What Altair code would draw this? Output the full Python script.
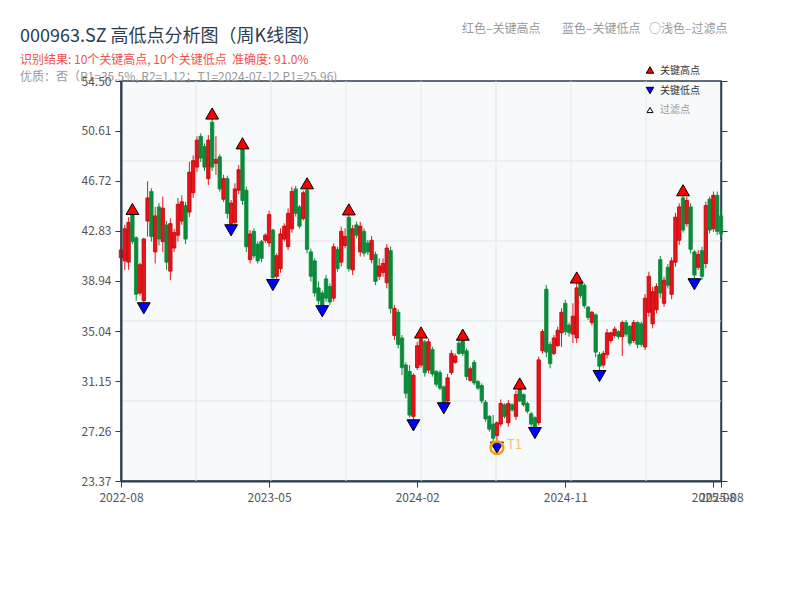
import altair as alt
import pandas as pd

# ---------------- text ----------------
TITLE = "000963.SZ 高低点分析图（周K线图）"
SUB1 = "识别结果: 10个关键高点, 10个关键低点\u00a0\u00a0准确度: 91.0%"
SUB2 = "优质：否（R1=35.5%, R2=1.12；T1=2024-07-12 P1=25.96)"
HEADER = ["红色–关键高点", "蓝色–关键低点", "○浅色–过滤点"]
LEGEND = ["关键高点", "关键低点", "过滤点"]

# ---------------- data ----------------
START = "2022-08-19"   # first weekly bar (Fridays)
OPEN = [40.75, 40.5, 40.4, 44.2, 42.3, 38.0, 37.4, 43.6, 45.9, 41.2,
        44.7, 42.0, 43.3, 39.7, 41.5, 42.5, 43.6, 44.8, 44.3, 45.8,
        47.8, 50.2, 49.4, 46.9, 51.3, 48.1, 48.6, 45.3, 46.9, 43.4,
        43.5, 46.0, 49.2, 46.0, 40.6, 42.8, 41.8, 42.0, 42.1, 41.9,
        42.9, 39.3, 39.9, 42.2, 41.6, 43.0, 46.1, 44.7, 43.8, 46.0,
        41.2, 40.5, 38.4, 38.0, 39.1, 38.5, 37.6, 41.4, 40.4, 41.7,
        43.9, 39.8, 43.3, 41.2, 42.8, 41.9, 40.6, 41.0, 39.3, 39.6,
        38.8, 41.3, 34.7, 36.5, 34.5, 32.4, 31.9, 28.4, 32.2, 32.4,
        34.2, 32.0, 33.6, 31.9, 31.8, 30.7, 29.6, 31.8, 32.6, 34.1,
        34.3, 33.5, 31.2, 32.6, 31.1, 30.8, 29.5, 28.4, 27.8, 26.9,
        27.8, 29.3, 27.9, 29.3, 28.4, 30.6, 30.1, 29.4, 28.6, 28.3,
        27.9, 33.5, 38.3, 34.0, 33.3, 33.9, 34.9, 37.2, 35.5, 34.8,
        34.5, 38.9, 38.6, 36.9, 35.7, 36.3, 33.2, 32.4, 33.2, 34.3,
        34.7, 35.0, 34.6, 35.7, 35.4, 34.3, 35.7, 35.6, 33.8, 36.5,
        35.6, 36.7, 40.6, 37.2, 40.0, 37.9, 40.4, 42.1, 45.4, 43.4,
        44.7, 41.2, 40.0, 41.3, 40.3, 45.3, 43.0, 45.6, 44.0]
HIGH = [41.5, 43.3, 43.9, 44.54, 42.4, 40.35, 42.3, 46.7, 46.15, 44.7,
        45.0, 45.5, 43.6, 43.8, 43.0, 45.4, 45.6, 45.1, 48.2, 48.7,
        50.2, 50.43, 49.65, 50.3, 51.97, 50.2, 48.8, 47.2, 47.13, 45.24,
        46.54, 47.96, 49.65, 46.28, 42.9, 43.03, 42.0, 42.13, 42.65, 44.41,
        43.0, 41.09, 43.03, 43.42, 44.59, 46.27, 46.33, 44.85, 45.96, 46.54,
        41.45, 40.7, 38.9, 38.2, 39.4, 38.75, 41.87, 41.61, 43.16, 43.03,
        44.51, 43.29, 43.55, 43.55, 43.03, 42.13, 42.44, 41.22, 40.7, 40.7,
        41.81, 41.61, 37.07, 36.73, 34.73, 32.6, 32.4, 31.75, 34.2, 34.93,
        34.34, 34.47, 33.82, 32.0, 32.0, 30.8, 31.7, 33.56, 33.3, 34.34,
        34.76, 33.69, 32.27, 32.79, 31.23, 30.97, 29.67, 28.5, 28.51, 28.0,
        29.72, 29.41, 29.67, 29.41, 30.4, 30.96, 30.19, 29.54, 28.76, 28.4,
        33.05, 35.17, 38.62, 34.21, 34.73, 35.38, 36.81, 37.46, 35.7, 37.2,
        39.21, 39.14, 38.75, 37.0, 36.6, 36.4, 33.4, 33.5, 35.2, 35.0,
        35.4, 35.1, 35.85, 35.9, 35.5, 35.9, 35.8, 35.77, 37.92, 39.66,
        38.49, 38.75, 40.88, 39.27, 40.26, 40.78, 44.25, 44.98, 46.0, 45.5,
        44.98, 41.35, 41.35, 41.61, 45.11, 45.5, 45.9, 45.89, 44.6]
LOW = [40.6, 39.8, 39.8, 41.8, 37.4, 37.8, 36.81, 42.4, 42.0, 40.3,
       41.7, 41.2, 39.8, 39.0, 41.2, 42.0, 43.3, 41.8, 43.9, 45.4,
       47.4, 48.2, 47.5, 46.4, 47.5, 47.2, 45.9, 45.1, 43.8, 42.88,
       43.0, 45.7, 44.85, 41.2, 40.3, 40.7, 40.3, 40.4, 41.9, 41.6,
       38.62, 39.09, 39.58, 42.0, 41.35, 42.7, 43.94, 43.03, 43.63, 41.09,
       38.9, 37.72, 37.1, 36.58, 37.3, 37.07, 37.33, 39.66, 40.05, 41.48,
       39.66, 39.4, 42.26, 40.83, 40.83, 40.96, 40.31, 38.62, 39.01, 39.27,
       38.36, 36.42, 34.34, 33.69, 31.62, 29.8, 28.3, 27.70, 32.0, 32.2,
       31.49, 31.75, 31.49, 30.71, 30.45, 29.03, 29.3, 31.62, 32.5, 33.17,
       33.1, 31.23, 31.1, 30.84, 30.45, 29.41, 27.99, 27.21, 26.43, 25.96,
       27.6, 28.25, 27.6, 28.76, 28.12, 29.5, 29.15, 28.63, 27.6, 27.10,
       27.7, 33.3, 33.0, 32.14, 33.17, 33.82, 33.8, 34.73, 34.6, 34.1,
       34.1, 37.6, 36.8, 35.9, 35.5, 33.0, 31.54, 32.2, 32.9, 34.1,
       34.5, 34.4, 33.1, 34.6, 33.9, 34.1, 33.7, 33.82, 33.56, 36.16,
       35.25, 36.42, 37.6, 36.94, 38.36, 37.51, 40.05, 41.74, 42.7, 43.16,
       41.09, 38.68, 39.79, 39.01, 39.92, 42.64, 42.77, 42.51, 42.3]
CLOSE = [41.35, 43.0, 43.5, 42.0, 37.9, 40.2, 42.2, 45.4, 42.4, 44.0,
         42.2, 44.6, 40.4, 43.4, 42.7, 44.9, 45.1, 42.2, 47.4, 48.3,
         49.9, 48.5, 47.8, 49.9, 47.8, 48.4, 46.1, 46.9, 44.2, 45.0,
         46.1, 47.6, 45.2, 41.6, 42.6, 40.9, 40.5, 40.7, 42.5, 44.1,
         39.2, 40.9, 42.6, 43.2, 44.2, 45.9, 44.2, 43.2, 45.8, 41.4,
         39.3, 38.0, 37.4, 37.0, 37.6, 37.3, 41.6, 39.9, 42.8, 42.4,
         39.9, 43.0, 42.5, 43.2, 41.1, 41.2, 42.1, 38.9, 40.1, 40.3,
         41.5, 36.8, 36.8, 34.0, 32.2, 30.2, 28.5, 31.6, 33.9, 34.4,
         31.8, 34.2, 31.7, 30.9, 30.6, 29.5, 31.4, 33.3, 33.1, 33.3,
         33.3, 31.5, 32.1, 31.0, 30.6, 29.6, 28.2, 27.4, 26.7, 27.9,
         29.4, 28.4, 29.4, 28.9, 30.1, 29.6, 29.3, 28.8, 27.8, 27.5,
         32.8, 35.0, 33.4, 32.5, 34.5, 35.1, 36.5, 35.0, 34.9, 36.2,
         38.4, 37.8, 37.0, 36.1, 36.5, 33.4, 32.3, 33.3, 34.9, 34.9,
         35.2, 34.6, 35.7, 34.8, 34.1, 35.7, 34.0, 34.0, 37.6, 39.3,
         38.1, 38.5, 38.0, 39.0, 38.6, 40.5, 43.9, 44.7, 42.9, 45.2,
         41.4, 39.4, 41.0, 39.3, 44.8, 42.9, 45.6, 42.8, 42.6]

KEY_HIGH_IDX = [3, 24, 32, 49, 60, 79, 90, 105, 120, 148]
KEY_LOW_IDX = [6, 29, 40, 53, 77, 85, 99, 109, 126, 151]
T1_IDX = 99
T1_LABEL = "T1"

Y_TICKS = [23.37, 27.26, 31.15, 35.04, 38.94, 42.83, 46.72, 50.61, 54.50]
Y_GRID = [29.596, 35.822, 42.048, 48.274]
X_TICK_IDX = [0, 39, 78, 117, 156, 158]          # bars that carry a date label
X_GRID = [19.75, 39.5, 59.25, 79.0, 98.75, 118.5, 138.25]   # split lines (bar index)

# ---------------- styles ----------------
RED = "#e8141b"
RED_EDGE = "#c00000"
GREEN = "#0b8a3a"
GRID_C = "#e3e6ea"
AXIS_C = "#2c3e50"
LABEL_C = "#555555"
FONT = "Noto Sans CJK SC"

dates = pd.date_range(START, periods=len(OPEN), freq="7D")
N = len(OPEN)
df = pd.DataFrame({"idx": list(range(N)), "date": dates.strftime("%Y-%m-%d"),
                   "open": OPEN, "high": HIGH, "low": LOW, "close": CLOSE})

tick_labels = [dates[i].strftime("%Y-%m") for i in X_TICK_IDX]
label_expr = "[{}][indexof([{}], datum.value)]".format(
    ",".join("'%s'" % s for s in tick_labels),
    ",".join(str(i) for i in X_TICK_IDX))

x_scale = alt.Scale(domain=[0, N - 1], padding=0, nice=False, zero=False)
y_scale = alt.Scale(domain=[Y_TICKS[0], Y_TICKS[-1]], nice=False, zero=False)

up = alt.datum.close >= alt.datum.open
col = alt.when(up).then(alt.value(RED)).otherwise(alt.value(GREEN))
edge = alt.when(up).then(alt.value(RED_EDGE)).otherwise(alt.value(GREEN))

grid_h = alt.Chart(pd.DataFrame({"g": Y_GRID})).mark_rule(
    color=GRID_C, strokeWidth=1).encode(
    y=alt.Y("g:Q", scale=y_scale, axis=None))
grid_v = alt.Chart(pd.DataFrame({"g": X_GRID})).mark_rule(
    color=GRID_C, strokeWidth=1).encode(
    x=alt.X("g:Q", scale=x_scale, axis=None))

x_axis = alt.Axis(values=X_TICK_IDX, labelExpr=label_expr,
                  labelOverlap=False, labelFlush=False,
                  grid=False, title=None, orient="bottom",
                  tickSize=6, labelPadding=5, domainWidth=2)
y_axis = alt.Axis(values=Y_TICKS, format=".2f", grid=False, title=None,
                  orient="left", tickSize=6, labelPadding=4, domainWidth=2,
                  zindex=1)
y_axis_right = alt.Axis(values=Y_TICKS, labels=False, grid=False, title=None,
                        orient="right", tickSize=6, domainWidth=1.5)

wick = alt.Chart(df).mark_rule(strokeWidth=1).encode(
    x=alt.X("idx:Q", scale=x_scale, axis=x_axis),
    y=alt.Y("low:Q", scale=y_scale, axis=y_axis),
    y2="high:Q",
    color=col,
)

body = alt.Chart(df).mark_bar(size=3.4, strokeWidth=0.8).encode(
    x=alt.X("idx:Q", scale=x_scale, axis=None),
    y=alt.Y("open:Q", scale=y_scale, axis=y_axis_right),
    y2="close:Q",
    fill=col,
    stroke=edge,
)

hi_df = pd.DataFrame({"idx": KEY_HIGH_IDX,
                      "price": [HIGH[i] for i in KEY_HIGH_IDX]})
lo_df = pd.DataFrame({"idx": KEY_LOW_IDX,
                      "price": [LOW[i] for i in KEY_LOW_IDX]})
t1_df = pd.DataFrame({"idx": [T1_IDX], "price": [LOW[T1_IDX]],
                      "label": [T1_LABEL]})

enc = dict(x=alt.X("idx:Q", scale=x_scale, axis=None),
           y=alt.Y("price:Q", scale=y_scale, axis=None))

hi_mk = alt.Chart(hi_df).mark_point(
    shape="triangle-up", filled=True, fill="#ff0000", stroke="#000000",
    strokeWidth=1, size=165, opacity=1).encode(**enc)
lo_mk = alt.Chart(lo_df).mark_point(
    shape="triangle-down", filled=True, fill="#0000ff", stroke="#000000",
    strokeWidth=1, size=165, opacity=1).encode(**enc)
t1_ring = alt.Chart(t1_df).mark_point(
    shape="circle", filled=False, stroke="#f39c12", strokeWidth=2.5,
    size=160, opacity=1).encode(**enc)
t1_txt = alt.Chart(t1_df).mark_text(
    align="left", baseline="middle", dx=10, dy=-3, fontSize=13,
    color="#f5b041", opacity=0.75, font=FONT).encode(text="label:N", **enc)


def label(txt, x, y, size, color):
    return alt.Chart(pd.DataFrame({"t": [txt]})).mark_text(
        align="left", baseline="middle", fontSize=size, color=color,
        font=FONT).encode(text="t:N", x=alt.value(x), y=alt.value(y))


def legend_sym(shape, fill, x, y, size):
    return alt.Chart(pd.DataFrame({"t": [0]})).mark_point(
        shape=shape, filled=True, fill=fill, stroke="#000000",
        strokeWidth=1, size=size, opacity=1).encode(
        x=alt.value(x), y=alt.value(y))


texts = [
    label(TITLE, -101, -44, 18, "#2c3e50"),
    label(SUB1, -101, -21, 12, "#f0504a"),
    label(SUB2, -101, -4, 12, "#999999"),
    label(HEADER[0], 341, -52, 12, "#999999"),
    label(HEADER[1], 441, -52, 12, "#999999"),
    label(HEADER[2], 528, -52, 12, "#999999"),
    legend_sym("triangle-up", "#ff0000", 529, -11, 55),
    legend_sym("triangle-down", "#0000ff", 529, 9.5, 55),
    legend_sym("triangle-up", "#ffffff", 529, 29, 36),
    label(LEGEND[0], 539, -10.5, 10, "#333333"),
    label(LEGEND[1], 539, 9.5, 10, "#333333"),
    label(LEGEND[2], 539, 29, 10, "#999999"),
]

chart = alt.layer(
    grid_h, grid_v, wick, body, hi_mk, lo_mk, t1_ring, t1_txt, *texts
).resolve_axis(x="independent", y="independent").properties(
    width=600, height=400,
    autosize=alt.AutoSizeParams(type="none"),
    padding={"left": 113, "top": 73, "right": 71, "bottom": 111},
    background="#ffffff",
).configure_view(
    fill="#f7f9fb", stroke=AXIS_C, strokeWidth=1.5,
).configure_axis(
    labelColor=LABEL_C, labelFontSize=12, labelFont=FONT,
    tickColor=AXIS_C, domainColor=AXIS_C, tickWidth=1,
)

chart.save("out.html", embed_options={"renderer": "svg", "actions": False})
